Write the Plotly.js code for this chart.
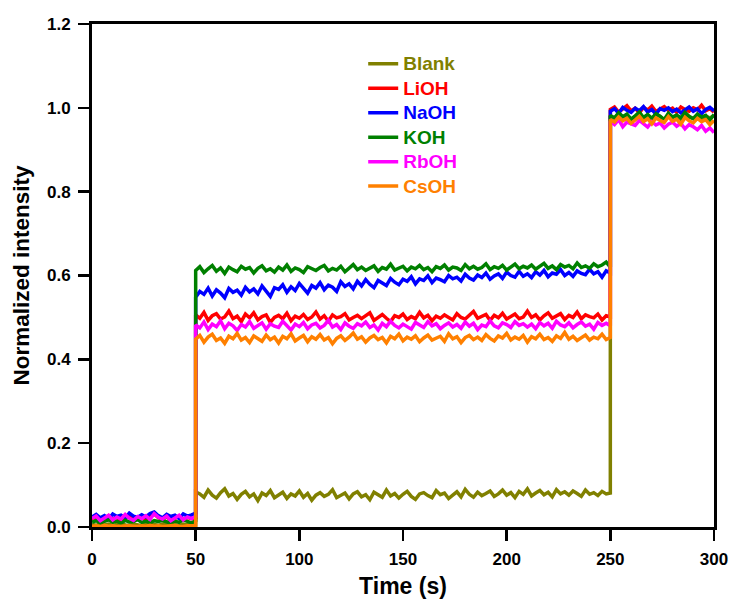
<!DOCTYPE html>
<html>
<head>
<meta charset="utf-8">
<script src="https://cdn.plot.ly/plotly-3.0.1.min.js"></script>
<style>html,body{margin:0;padding:0;background:#fff;}#chart{width:734px;height:601px;}</style>
</head>
<body>
<div id="chart"></div>
<script>
// Series names and colours
const seriesNames = ["Blank", "LiOH", "NaOH", "KOH", "RbOH", "CsOH"];
const seriesColors = ["#808000", "#ff0000", "#0000ff", "#008000", "#ff00ff", "#ff8000"];

// Segment time boundaries (s) and sampling step
const segStarts = [0, 50, 250];
const segEnds = [50, 250, 300];
const sampleStep = 2;

// Values: low (0-50 s), mid (50-250 s), high (250-300 s)
const blankLow = [0.006,0.004,0.008,0.005,0.007,0.003,0.006,0.009,0.005,0.004,0.007,0.006,0.003,0.008,0.005,0.006,0.004,0.007,0.009,0.005,0.006,0.003,0.007,0.005,0.008,0.006];
const blankMid = [0.084,0.079,0.071,0.088,0.076,0.069,0.082,0.091,0.074,0.080,
0.066,0.078,0.085,0.072,0.079,0.063,0.081,0.075,0.087,0.070,
0.077,0.083,0.068,0.079,0.074,0.086,0.071,0.080,0.064,0.076,
0.082,0.073,0.078,0.089,0.070,0.075,0.081,0.067,0.079,0.084,
0.072,0.077,0.065,0.083,0.076,0.071,0.088,0.074,0.080,0.069,
0.078,0.085,0.073,0.066,0.079,0.082,0.075,0.070,0.087,0.077,
0.081,0.068,0.076,0.084,0.072,0.090,0.078,0.071,0.083,0.075,
0.080,0.086,0.073,0.079,0.088,0.076,0.082,0.070,0.085,0.078,
0.091,0.074,0.081,0.087,0.077,0.083,0.072,0.089,0.079,0.084,
0.076,0.086,0.080,0.073,0.088,0.078,0.082,0.075,0.085,0.079,0.081];
const blankHigh = [0.981,0.975,0.986,0.978,0.983,0.972,0.980,0.987,0.976,0.982,0.974,0.985,0.979,0.971,0.984,0.977,0.981,0.973,0.986,0.978,0.975,0.983,0.970,0.980,0.976,0.982];

const liohLow = [0.018,0.024,0.015,0.021,0.027,0.019,0.023,0.016,0.022,0.025,0.018,0.020,0.026,0.017,0.029,0.031,0.022,0.019,0.024,0.016,0.021,0.025,0.018,0.023,0.020,0.022];
const liohMid = [0.506,0.498,0.512,0.493,0.504,0.509,0.496,0.501,0.515,0.497,
0.503,0.490,0.508,0.499,0.511,0.494,0.502,0.506,0.488,0.500,
0.505,0.497,0.510,0.492,0.503,0.498,0.507,0.495,0.501,0.513,
0.496,0.504,0.491,0.506,0.499,0.502,0.509,0.494,0.500,0.505,
0.497,0.503,0.511,0.493,0.501,0.507,0.498,0.490,0.504,0.500,
0.508,0.495,0.502,0.497,0.512,0.499,0.505,0.492,0.503,0.498,
0.506,0.501,0.494,0.509,0.500,0.496,0.504,0.514,0.498,0.502,
0.507,0.493,0.505,0.499,0.510,0.496,0.503,0.508,0.497,0.501,
0.515,0.500,0.506,0.494,0.504,0.511,0.498,0.503,0.509,0.495,
0.505,0.500,0.513,0.497,0.506,0.502,0.499,0.508,0.494,0.504,0.501];
const liohHigh = [0.996,1.002,0.990,0.998,1.005,0.993,0.999,0.988,1.001,0.995,1.004,0.991,0.997,1.003,0.994,0.999,0.989,1.002,0.996,0.992,1.000,0.995,1.006,0.993,0.998,0.990];

const naohLow = [0.024,0.030,0.022,0.027,0.019,0.031,0.025,0.028,0.021,0.033,0.026,0.023,0.029,0.024,0.032,0.036,0.027,0.022,0.030,0.025,0.028,0.020,0.031,0.026,0.029,0.033];
const naohMid = [0.548,0.562,0.555,0.570,0.551,0.566,0.558,0.547,0.569,0.560,
0.565,0.553,0.572,0.561,0.568,0.556,0.575,0.563,0.550,0.571,
0.567,0.578,0.560,0.573,0.564,0.581,0.569,0.558,0.576,0.570,
0.583,0.566,0.577,0.572,0.562,0.585,0.574,0.580,0.568,0.586,
0.575,0.590,0.579,0.571,0.588,0.582,0.576,0.593,0.584,0.578,
0.591,0.586,0.597,0.580,0.592,0.588,0.599,0.583,0.594,0.590,
0.585,0.600,0.592,0.596,0.587,0.603,0.594,0.589,0.601,0.595,
0.606,0.591,0.599,0.604,0.593,0.608,0.600,0.596,0.610,0.598,
0.604,0.595,0.609,0.601,0.612,0.597,0.606,0.603,0.614,0.600,
0.607,0.598,0.611,0.605,0.602,0.615,0.604,0.609,0.596,0.611,0.606];
const naohHigh = [0.992,0.998,0.987,1.001,0.994,0.989,0.999,0.993,1.003,0.990,0.996,0.985,0.998,0.994,1.000,0.991,0.997,0.988,0.995,1.002,0.992,0.998,0.986,0.996,1.001,0.993];

const kohLow = [0.012,0.015,0.010,0.013,0.017,0.011,0.014,0.009,0.016,0.012,0.013,0.018,0.011,0.014,0.010,0.015,0.013,0.016,0.012,0.009,0.014,0.011,0.017,0.013,0.010,0.015];
const kohMid = [0.612,0.621,0.607,0.616,0.624,0.610,0.618,0.605,0.620,0.614,
0.609,0.622,0.615,0.619,0.606,0.617,0.623,0.611,0.616,0.608,
0.620,0.613,0.625,0.610,0.618,0.614,0.607,0.621,0.616,0.612,
0.619,0.624,0.611,0.617,0.613,0.622,0.609,0.618,0.626,0.614,
0.620,0.612,0.617,0.623,0.610,0.619,0.615,0.627,0.613,0.618,
0.622,0.611,0.620,0.616,0.624,0.614,0.619,0.609,0.621,0.617,
0.625,0.613,0.620,0.618,0.612,0.626,0.616,0.622,0.615,0.619,
0.628,0.614,0.621,0.617,0.624,0.613,0.620,0.627,0.616,0.622,
0.618,0.625,0.615,0.621,0.629,0.617,0.623,0.614,0.626,0.620,
0.624,0.616,0.630,0.619,0.623,0.617,0.628,0.621,0.625,0.632,0.620];
const kohHigh = [0.982,0.976,0.988,0.979,0.985,0.973,0.981,0.990,0.977,0.984,0.975,0.986,0.980,0.972,0.987,0.978,0.983,0.976,0.989,0.980,0.974,0.985,0.978,0.982,0.971,0.984];

const rbohLow = [0.020,0.026,0.015,0.022,0.028,0.017,0.024,0.019,0.030,0.021,0.016,0.025,0.020,0.027,0.018,0.032,0.023,0.019,0.026,0.015,0.022,0.028,0.017,0.024,0.020,0.025];
const rbohMid = [0.482,0.475,0.489,0.471,0.484,0.478,0.492,0.473,0.486,0.480,
0.469,0.483,0.477,0.490,0.474,0.481,0.487,0.472,0.485,0.479,
0.476,0.491,0.480,0.470,0.484,0.478,0.488,0.473,0.482,0.486,
0.475,0.481,0.493,0.477,0.483,0.471,0.487,0.479,0.474,0.485,
0.480,0.489,0.476,0.482,0.470,0.486,0.478,0.491,0.481,0.475,
0.484,0.479,0.472,0.488,0.482,0.476,0.490,0.480,0.485,0.473,
0.481,0.487,0.477,0.483,0.474,0.489,0.479,0.486,0.471,0.482,
0.478,0.492,0.480,0.475,0.487,0.483,0.476,0.490,0.481,0.485,
0.477,0.484,0.473,0.488,0.480,0.486,0.474,0.491,0.482,0.478,
0.487,0.475,0.483,0.489,0.479,0.484,0.472,0.488,0.481,0.486,0.480];
const rbohHigh = [0.968,0.960,0.972,0.955,0.966,0.962,0.958,0.970,0.963,0.954,0.967,0.959,0.964,0.952,0.961,0.966,0.956,0.963,0.950,0.960,0.955,0.948,0.958,0.944,0.952,0.941];

const csohLow = [0.002,0.003,0.001,0.004,0.002,0.003,0.001,0.002,0.004,0.003,0.002,0.001,0.003,0.002,0.004,0.002,0.003,0.001,0.002,0.003,0.004,0.002,0.001,0.003,0.002,0.003];
const csohMid = [0.448,0.457,0.441,0.453,0.460,0.445,0.451,0.438,0.455,0.449,
0.462,0.446,0.452,0.440,0.456,0.450,0.443,0.458,0.447,0.453,
0.439,0.455,0.449,0.461,0.444,0.451,0.457,0.442,0.454,0.448,
0.459,0.446,0.452,0.437,0.450,0.456,0.445,0.453,0.463,0.448,
0.454,0.441,0.451,0.457,0.447,0.452,0.439,0.455,0.449,0.460,
0.444,0.453,0.448,0.456,0.442,0.451,0.458,0.446,0.450,0.455,
0.443,0.461,0.449,0.454,0.440,0.452,0.457,0.447,0.453,0.445,
0.459,0.450,0.444,0.456,0.451,0.462,0.446,0.453,0.448,0.457,
0.441,0.454,0.449,0.460,0.447,0.452,0.443,0.456,0.450,0.464,
0.448,0.455,0.445,0.451,0.458,0.446,0.453,0.449,0.460,0.447,0.452];
const csohHigh = [0.972,0.966,0.978,0.969,0.975,0.963,0.971,0.980,0.967,0.974,0.962,0.976,0.970,0.965,0.979,0.968,0.973,0.961,0.977,0.969,0.964,0.975,0.967,0.972,0.960,0.970];

const seriesSegments = [
  [blankLow, blankMid, blankHigh],
  [liohLow, liohMid, liohHigh],
  [naohLow, naohMid, naohHigh],
  [kohLow, kohMid, kohHigh],
  [rbohLow, rbohMid, rbohHigh],
  [csohLow, csohMid, csohHigh]
];

// Time axis: sample times of each segment (segments share their boundary times)
const timeAxis = [];
for (let s = 0; s < segStarts.length; s++) {
  for (let t = segStarts[s]; t <= segEnds[s] + 1e-9; t += sampleStep) timeAxis.push(t);
}

const traces = seriesNames.map((name, i) => ({
  type: 'scatter',
  mode: 'lines',
  x: timeAxis,
  y: [].concat(...seriesSegments[i]),
  name: '<span style="color:' + seriesColors[i] + ';font-size:19px">' + name + '</span>',
  line: {color: seriesColors[i], width: 3.5}
}));

const fontFam = 'Liberation Sans, Arial, sans-serif';
const layout = {
  width: 734, height: 601,
  margin: {l: 92, r: 20, t: 24, b: 74},
  paper_bgcolor: '#ffffff', plot_bgcolor: '#ffffff',
  showlegend: true,
  legend: {
    x: 0.436, y: 0.955, xanchor: 'left', yanchor: 'top',
    bgcolor: 'rgba(0,0,0,0)',
    font: {family: fontFam, size: 16.5, weight: 'bold', color: '#000'},
    tracegroupgap: 0
  },
  xaxis: {
    range: [0, 300], dtick: 50, tick0: 0,
    showgrid: false, zeroline: false,
    showline: true, linecolor: '#000', linewidth: 3, mirror: true,
    ticks: 'outside', ticklen: 11, tickwidth: 2.5, tickcolor: '#000',
    ticklabelstandoff: 4,
    tickfont: {family: fontFam, size: 17, weight: 'bold', color: '#000'},
    title: {text: 'Time (s)', font: {family: fontFam, size: 23, weight: 'bold', color: '#000'}, standoff: 10}
  },
  yaxis: {
    range: [0, 1.2], dtick: 0.2, tick0: 0, tickformat: '.1f',
    showgrid: false, zeroline: false,
    showline: true, linecolor: '#000', linewidth: 3, mirror: true,
    ticks: 'outside', ticklen: 11, tickwidth: 2.5, tickcolor: '#000',
    ticklabelstandoff: 4,
    tickfont: {family: fontFam, size: 17, weight: 'bold', color: '#000'},
    title: {text: 'Normalized intensity', font: {family: fontFam, size: 22.5, weight: 'bold', color: '#000'}, standoff: 12}
  }
};

Plotly.newPlot('chart', traces, layout, {displayModeBar: false, staticPlot: true});
</script>
</body>
</html>
